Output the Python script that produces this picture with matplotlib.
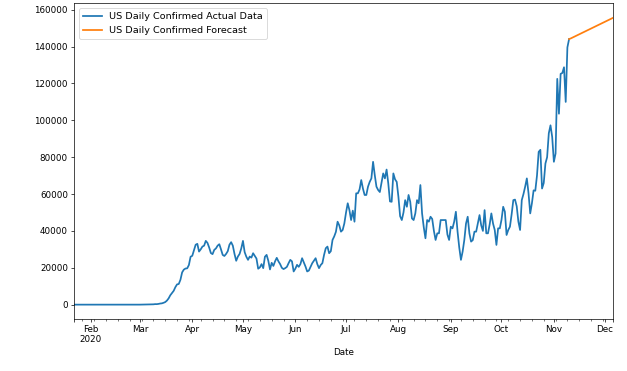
import pandas as pd
import matplotlib
matplotlib.use("Agg")
import matplotlib.pyplot as plt

# daily new confirmed cases (Jan 22 - Nov 10 2020)
jan = [1, 0, 1, 0, 3, 0, 0, 0, 1, 1]
feb = [1, 1, 3, 0, 0, 0, 0, 0, 0, 1, 0, 1, 0, 0, 0, 0, 1, 0, 0, 0,
       20, 0, 0, 18, 0, 3, 1, 2, 8]
mar = [8, 23, 20, 31, 70, 100, 120, 130, 175, 290, 270, 400, 600, 700, 1000,
       1400, 2200, 3400, 5100, 6300, 7500, 9500, 11000, 11200, 13500, 17500,
       19000, 19600, 19700, 21500, 26000]
apr = [26500, 29500, 32500, 33000, 28800, 30000, 31500, 32000, 34600, 33500,
       31000, 28000, 27400, 29700, 30500, 32000, 32800, 30000, 27000, 26400,
       27500, 29000, 32500, 33900, 32000, 27500, 23800, 26100, 27500, 30500]
may = [34600, 28500, 26000, 24300, 26100, 25500, 27900, 26500, 25000, 19500,
       20200, 22000, 19800, 26000, 27000, 23800, 19100, 22700, 21000, 23500,
       25400, 23500, 22000, 20000, 19300, 19800, 20500, 22500, 24300, 23500,
       18000]
jun = [19500, 21600, 20500, 22000, 25200, 23000, 20700, 18000, 18500, 20500,
       22500, 23800, 25200, 22000, 19800, 21500, 22500, 27000, 30600, 31500,
       27900, 29000, 35100, 37000, 39500, 45000, 43000, 39600, 40500, 44100]
jul = [50000, 55000, 51300, 45900, 51000, 45000, 60400, 60400, 62500, 67600,
       63000, 59500, 59500, 64000, 66600, 68500, 77500, 70300, 64000, 62200,
       61100, 66000, 71200, 68500, 73300, 65800, 56000, 55800, 71200, 68000,
       66600]
aug = [58500, 48000, 45900, 50000, 56700, 53100, 59500, 55800, 46800, 45900,
       49500, 56700, 55000, 64900, 49500, 42000, 36000, 45900, 45000, 47700,
       46500, 40000, 35100, 38700, 38700, 45900, 45900, 45900, 45900, 38000,
       35100]
sep = [42300, 41400, 45000, 50400, 39600, 31000, 24300, 28800, 35100, 44000,
       47700, 38700, 34200, 35000, 39600, 39600, 44000, 48600, 43000, 40000,
       51300, 38700, 38700, 43500, 49500, 44000, 40500, 32400, 41400, 41400]
octo = [46000, 53100, 50400, 37800, 40500, 42300, 49000, 56700, 57000, 53400,
        45000, 40500, 56700, 60000, 64000, 68500, 60400, 49500, 55000, 62000,
        61800, 70000, 82900, 84000, 63000, 66000, 76600, 80000, 93000, 97300,
        91000]
nov = [77500, 82000, 122500, 103600, 125200, 125700, 128800, 110000, 139600,
       144100]

# forecast line, Nov 10 - Dec 6
forecast = [144100, 144450, 144900, 145340, 145790, 146240, 146680, 147130,
            147580, 148020, 148470, 148920, 149360, 149810, 150260, 150700,
            151150, 151600, 152040, 152490, 152940, 153380, 153830, 154280,
            154720, 155170, 155620]

actual = jan + feb + mar + apr + may + jun + jul + aug + sep + octo + nov
idx = pd.date_range("2020-01-22", periods=len(actual), freq="D", name="Date")
idx_fc = pd.date_range("2020-11-10", periods=len(forecast), freq="D", name="Date")

s_actual = pd.Series(actual, index=idx)
s_fc = pd.Series(forecast, index=idx_fc)

dpi = 62.64
fig = plt.figure(figsize=(627 / dpi, 371 / dpi), dpi=dpi)
ax = fig.add_axes([0.118, 0.1402, 0.8597, 0.8504])

s_actual.plot(ax=ax, lw=2, label="US Daily Confirmed Actual Data")
s_fc.plot(ax=ax, lw=2, label="US Daily Confirmed Forecast")
ax.legend(loc="upper left", fontsize=11)

fig.savefig("out.png", dpi=dpi)
